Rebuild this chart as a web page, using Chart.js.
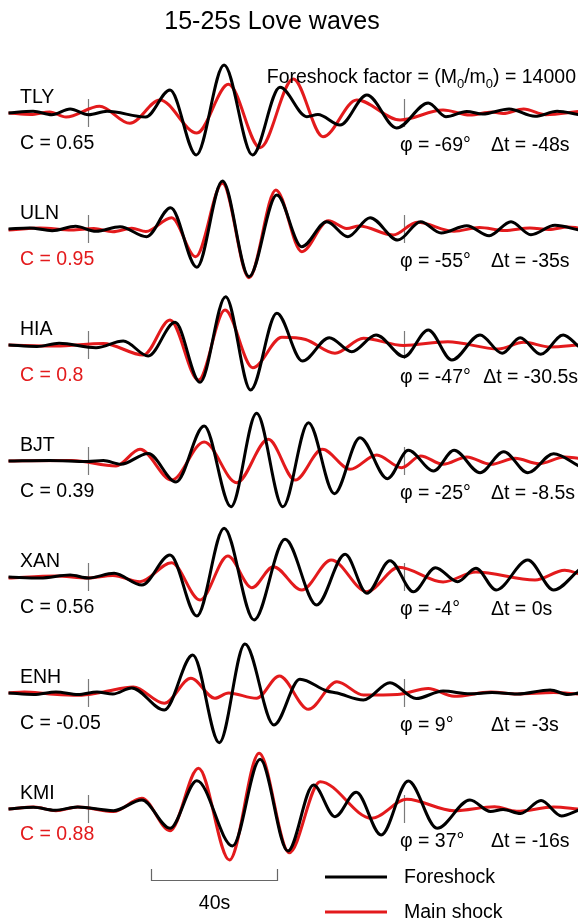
<!DOCTYPE html>
<html>
<head>
<meta charset="utf-8">
<title>15-25s Love waves</title>
<style>
  body { margin: 0; background: #fff; }
  canvas { display: block; }
</style>
<script src="https://cdn.jsdelivr.net/npm/chart.js"></script>
</head>
<body>
<canvas id="waves" width="578" height="921"></canvas>
<script>
// stations, top to bottom, with the fit numbers printed beside each trace
const stations = ['TLY', 'ULN', 'HIA', 'BJT', 'XAN', 'ENH', 'KMI'];
const corr = [0.65, 0.95, 0.8, 0.39, 0.56, -0.05, 0.88];
const corrHighlight = [false, true, true, false, false, false, true];
const phase = [-69, -55, -47, -25, -4, 9, 37];
const shift = [-48, -35, -30.5, -8.5, 0, -3, -16];
const factor = 14000;

// waveforms as [time s, relative amplitude] picked off the peaks and troughs
const foreTLY = [[-25,0],[-17.2,1.7],[-11.3,-1.7],[-5.5,4],[0.3,-1.7],[6.2,1.7],[18.4,-4],[26.1,23],[34.4,-42],[43.2,48],[52.2,-42],[60.9,25.7],[69.4,-3.7],[72.9,-1.5],[79.9,-12],[88.4,18],[97.8,-15],[107.8,10],[113.4,-3.7],[120,1.5],[125,-1],[133.4,4],[141.6,-3.3],[148.6,1.7],[155.5,-1.7]];
const mainTLY = [[-25,0],[-18,-1.5],[-12,1],[-6.8,-4],[3.8,6.7],[13.4,-10.3],[22.9,13],[34.6,-20],[44.6,28.7],[54.6,-34.7],[65.1,34],[74.5,-23.7],[85.2,13],[98.9,-7],[112.5,3],[121,-2],[128,1],[131.5,-0.5],[138,4],[145,-1.7],[155.5,1.5]];

const foreULN = [[-25,0],[-18.4,1],[-11.2,-1.7],[-3.8,2.7],[2.7,-2.3],[10.3,2.3],[18.7,-7.7],[26.3,21.3],[34.6,-38.3],[42.7,48],[51.1,-47.7],[59.9,34],[67.8,-17.7],[75.7,7.3],[82.4,-7.7],[89.4,11.3],[98.2,-11],[105.4,7.3],[111.9,-4],[120,3.3],[127.1,-6.7],[134,7.3],[140.3,-5.7],[147.9,3.7],[155.5,-1]];
const mainULN = [[-25,-1],[-15,1],[-5,-1],[2,0.5],[8,-2.7],[14,0.7],[18.5,-2.5],[26.6,11.3],[34.2,-27.7],[42.7,45.7],[51.1,-48.7],[59.6,39],[67.8,-22.7],[76.2,8.3],[82,0.5],[86,3],[96.7,-6],[104.3,6.7],[116,-2.3],[124,1.5],[132,-1.5],[140,1],[146,-0.5],[152,2],[155.5,1]];

const foreHIA = [[-25,0],[-16,-1.5],[-9,1.7],[2.7,-2.7],[11.3,4],[19.2,-11],[27.7,22.7],[35.6,-37.3],[43.7,48.3],[51.6,-45],[59.9,31.7],[68,-16],[76.5,7.3],[83.6,-6.7],[91.3,10],[100.2,-11.7],[107.8,15],[115.3,-15],[124.2,10],[131.2,-8.3],[136.9,7.3],[143.4,-9.3],[150.5,10],[155.5,-1.7]];
const mainHIA = [[-25,0],[-10,-1],[5,1.5],[17.7,-10],[26.1,25],[35.1,-35],[43.5,35],[52.3,-22.7],[61.5,7.7],[69,5.5],[78.3,-8.3],[87.3,6.7],[100,-0.5],[114,3.3],[130,-4],[138,2.7],[146.4,-2],[155.5,0]];

const foreBJT = [[-25,0],[-12,0.5],[0,-0.5],[5,0.5],[10.5,-3.3],[19.2,7.5],[28,-21],[36.9,35],[45.4,-45.7],[53.5,47.7],[61.8,-45.7],[69.9,38.3],[78.1,-32.7],[86.2,23.3],[94.9,-17.7],[101.5,10.7],[109.5,-10],[116,10.7],[124.2,-11.7],[131.7,9.3],[139.3,-11.7],[147.5,7.3],[155.5,-5]];
const mainBJT = [[-25,0],[-5,0.5],[9,-5],[16.6,11.7],[26.6,-19],[36.9,19],[47.2,-21.7],[57.2,21.7],[65.7,-19],[74.3,11.7],[83.1,-8.3],[91.5,6],[99.4,-6.7],[105.4,5],[112.5,-3.3],[120,4],[127.6,-3.3],[135.3,2.7],[142.8,-2.7],[151,4],[155.5,2.7]];

const foreXAN = [[-25,0],[-15,-1],[-5.5,2],[0.3,-1],[8.4,3.7],[17.2,-8],[26.1,22],[34.6,-39],[43.2,48.7],[52.7,-43],[62.5,37.7],[72.5,-28],[81.5,22.7],[88.4,-16.3],[95.7,16.3],[103.1,-14.7],[110.1,9.3],[117.1,-4.7],[122.9,8.7],[129.3,-13],[139.3,17],[147.5,-13],[155.5,7]];
const mainXAN = [[-25,-1],[-10,1],[0,-1],[8,1.5],[16.6,-4.7],[26.6,14.3],[35.6,-23],[44.4,21],[52,-10.7],[58.8,10.3],[67.8,-13],[77.1,17],[88.4,-14.7],[98.5,9.7],[112.5,-5],[122.9,5],[141.6,-3],[151,6.7],[155.5,3.3]];

const foreENH = [[-25,0],[-17,-1.5],[-10,1],[-3,-1.5],[3,1],[8,-1],[14,5],[24.3,-17],[33.3,38],[41.7,-49.7],[49.8,49],[59,-32],[67.2,13.7],[75.7,2],[79,0],[87.3,-7],[95.7,10.3],[104,-5.5],[112.5,2],[121,-0.8],[128,0.5],[136,-1],[146.4,3],[152,-1.5],[155.5,0]];
const mainENH = [[-25,0],[-20,1],[-12,-1],[-3,-2.3],[5,1],[14.5,6],[24.3,-10.3],[32.7,14.7],[40.3,-5.3],[44.6,0],[53.5,-5.3],[60.7,17],[69.9,-16.3],[78.9,11.3],[87.3,-2],[98,-1.5],[107.8,4.5],[116,-3.3],[127.6,1],[135.8,-1],[147.5,0.5],[155.5,-1]];

const foreKMI = [[-25,0],[-17.2,1.7],[-10.3,-1.3],[-3.2,2],[8.2,-1.7],[17.2,9],[26.1,-19.3],[34.6,28.3],[45.9,-37],[54.6,49.7],[63.4,-42],[71.5,24],[78.3,-7.7],[85,16.7],[92.9,-26],[101.5,28],[110.6,-19.3],[121,9],[127.5,-2.5],[131.5,-0.5],[137,-4.5],[143.5,8.5],[150,-7],[155.5,-1]];
const mainKMI = [[-25,0],[-17,2],[-10,-1.7],[-3,2],[8.2,-2.5],[17.2,10.7],[26.1,-21.7],[35.1,40.7],[44.9,-51],[54.3,55.7],[63.8,-43.7],[73.6,27.3],[89.9,-9.3],[101,9.7],[116,-1.7],[128.8,2.3],[135.8,-2.3],[147.5,2],[155.5,0]];

const foreshock = [foreTLY, foreULN, foreHIA, foreBJT, foreXAN, foreENH, foreKMI];
const mainshock = [mainTLY, mainULN, mainHIA, mainBJT, mainXAN, mainENH, mainKMI];
const markTimes = [0, 100];   // little ticks on each trace
const scaleBar = [20, 60];    // the 40s bar

// layout
const W = 578, H = 921;
const traceTop = 113, traceGap = 116;
const tMin = -27.7, tMax = 155.2;
const RED = '#e31a1c';
const FONT = '"Liberation Sans", Arial, sans-serif';

function baseOf(i) { return traceTop + traceGap * i; }
function toPoints(arr, i) {
    return arr.map(p => ({ x: p[0], y: -baseOf(i) + p[1] }));
}

const datasets = [];
for (let i = 0; i < stations.length; i++) {
    datasets.push({
        data: toPoints(foreshock[i], i),
        borderColor: '#000', borderWidth: 3, order: 0
    });
    datasets.push({
        data: toPoints(mainshock[i], i),
        borderColor: RED, borderWidth: 3, order: 1
    });
}

const decor = {
    id: 'decor',
    beforeDatasetsDraw(chart) {
        const ctx = chart.ctx, xs = chart.scales.x;
        ctx.save();
        ctx.strokeStyle = '#7a7a7a';
        ctx.lineWidth = 1.2;
        for (let i = 0; i < stations.length; i++) {
            markTimes.forEach(t => {
                const px = Math.round(xs.getPixelForValue(t)) + 0.5;
                ctx.beginPath();
                ctx.moveTo(px, baseOf(i) - 14);
                ctx.lineTo(px, baseOf(i) + 14);
                ctx.stroke();
            });
        }
        ctx.restore();
    },
    afterDraw(chart) {
        const ctx = chart.ctx, xs = chart.scales.x;
        ctx.save();
        ctx.textBaseline = 'alphabetic';
        ctx.textAlign = 'left';

        // title
        ctx.fillStyle = '#000';
        ctx.font = '25px ' + FONT;
        ctx.textAlign = 'center';
        ctx.fillText('15-25s Love waves', 272, 29);
        ctx.textAlign = 'left';

        // foreshock factor with subscripts, right edge at 576
        const big = '19.5px ' + FONT, small = '13px ' + FONT;
        const parts = [['Foreshock factor = (M', big, 0], ['0', small, 5], ['/m', big, 0], ['0', small, 5], [') = ' + factor, big, 0]];
        let total = 0;
        parts.forEach(p => { ctx.font = p[1]; total += ctx.measureText(p[0]).width; });
        let cx = 576 - total;
        parts.forEach(p => {
            ctx.font = p[1];
            ctx.fillText(p[0], cx, 83 + p[2]);
            cx += ctx.measureText(p[0]).width;
        });

        ctx.font = big;
        for (let i = 0; i < stations.length; i++) {
            const b = baseOf(i);
            // KMI's C label sits a bit closer to its trace
            const cOff = i === stations.length - 1 ? 31 : 36;
            ctx.fillStyle = '#000';
            ctx.fillText(stations[i], 20, b - 10.5);
            ctx.fillStyle = corrHighlight[i] ? RED : '#000';
            ctx.fillText('C = ' + corr[i], 20, b + cOff);
            ctx.fillStyle = '#000';
            ctx.fillText('\u03c6 = ' + phase[i] + '\u00b0', 400, b + 38);
            const dt = '\u0394t = ' + shift[i] + 's';
            const w = ctx.measureText(dt).width;
            ctx.fillText(dt, Math.min(491, 578 - w), b + 38);
        }

        // 40 s scale bar
        const x0 = Math.round(xs.getPixelForValue(scaleBar[0])) + 0.5;
        const x1 = Math.round(xs.getPixelForValue(scaleBar[1])) + 0.5;
        ctx.strokeStyle = '#666';
        ctx.lineWidth = 1.2;
        ctx.beginPath();
        ctx.moveTo(x0, 869); ctx.lineTo(x0, 880.5); ctx.lineTo(x1, 880.5); ctx.lineTo(x1, 869);
        ctx.stroke();
        ctx.fillStyle = '#000';
        ctx.textAlign = 'center';
        ctx.textBaseline = 'middle';
        ctx.fillText((scaleBar[1] - scaleBar[0]) + 's', (x0 + x1) / 2, 904);

        // legend
        ctx.textAlign = 'left';
        ctx.lineWidth = 3;
        [['Foreshock', '#000', 877], ['Main shock', RED, 912]].forEach(l => {
            ctx.strokeStyle = l[1];
            ctx.beginPath();
            ctx.moveTo(325, l[2]); ctx.lineTo(387, l[2]);
            ctx.stroke();
            ctx.fillStyle = '#000';
            ctx.fillText(l[0], 404, l[2] + 1);
        });
        ctx.restore();
    }
};

new Chart(document.getElementById('waves'), {
    type: 'line',
    data: { datasets: datasets },
    options: {
        responsive: false,
        animation: false,
        devicePixelRatio: 1,
        layout: { padding: 0 },
        elements: {
            point: { radius: 0 },
            line: { cubicInterpolationMode: 'monotone', fill: false, capBezierPoints: true }
        },
        plugins: { legend: { display: false }, tooltip: { enabled: false }, title: { display: false } },
        scales: {
            x: { type: 'linear', min: tMin, max: tMax, display: false },
            y: { type: 'linear', min: -H, max: 0, display: false }
        }
    },
    plugins: [decor]
});
</script>
</body>
</html>
